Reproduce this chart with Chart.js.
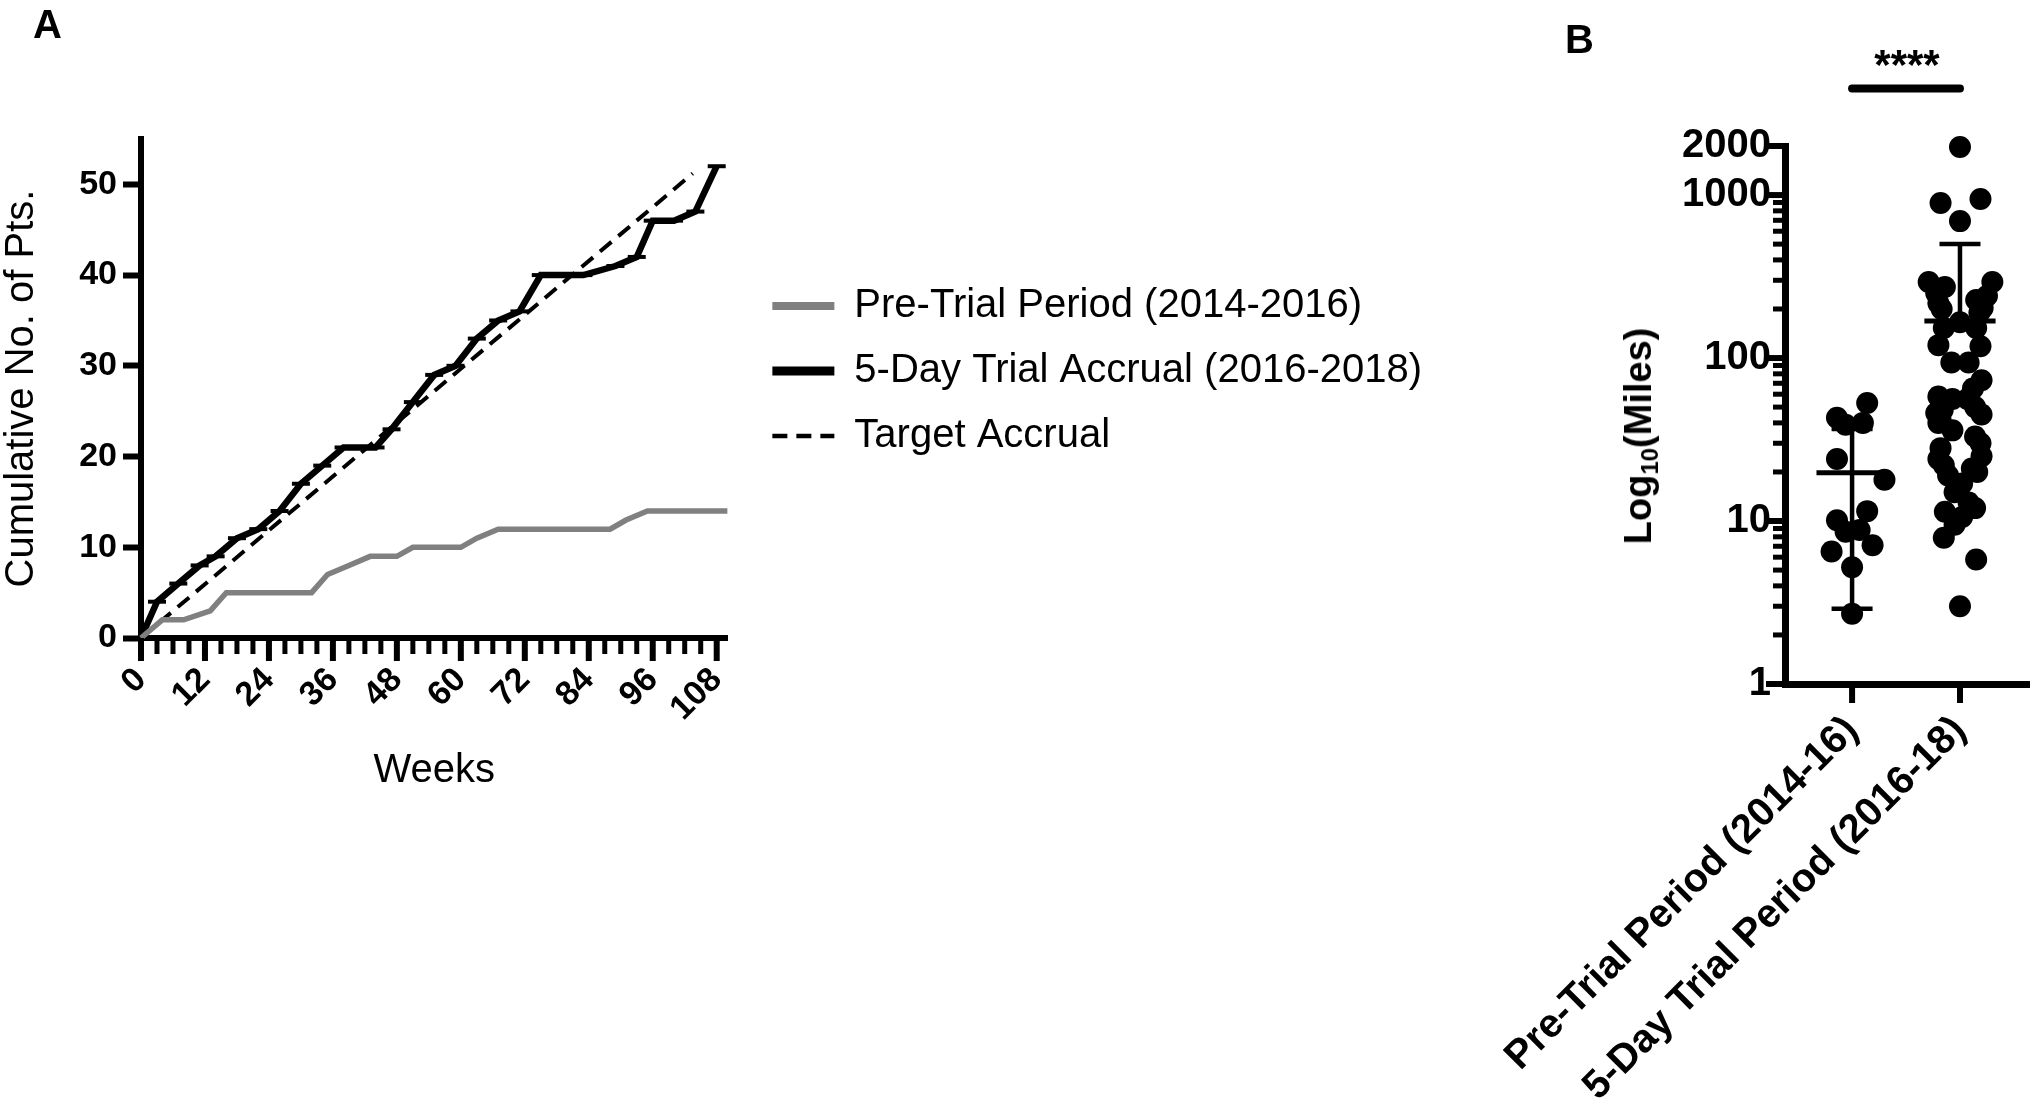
<!DOCTYPE html>
<html>
<head>
<meta charset="utf-8">
<script src="https://cdn.jsdelivr.net/npm/chart.js@4/dist/chart.umd.min.js"></script>
<style>
html,body{margin:0;padding:0;background:#fff;}
#wrap{position:relative;width:2040px;height:1110px;overflow:hidden;background:#fff;font-family:'Liberation Sans',Arial,sans-serif;color:#000;}
canvas{position:absolute;top:0;}
#cA{left:0;}
#cB{left:1500px;}
.lbl{position:absolute;font-weight:bold;font-size:40px;line-height:40px;}
#ytB{position:absolute;left:1638px;top:436px;transform:translate(-50%,-50%) rotate(-90deg);font-weight:bold;font-size:38px;line-height:44px;white-space:nowrap;}
#ytB sub{font-size:24px;vertical-align:-7px;line-height:0;}
#stars{position:absolute;left:1907px;top:44px;transform:translateX(-50%);font-size:42px;line-height:42px;font-weight:bold;white-space:nowrap;}
</style>
</head>
<body>
<div id="wrap">
  <canvas id="cA" width="1600" height="840"></canvas>
  <canvas id="cB" width="540" height="1110"></canvas>
  <div class="lbl" style="left:33px;top:4px">A</div>
  <div class="lbl" style="left:1565px;top:19px">B</div>
  <div id="stars">****</div>
  <div id="ytB">Log<sub>10</sub>(Miles)</div>
</div>
<script>
// ---------------- Panel A data ----------------
const trialWeeks    = [0, 3, 7, 11, 14, 18, 22, 26, 30, 34, 38, 44, 47, 51, 55, 59, 63, 67, 71, 75, 79, 83, 89, 93, 96, 100, 104, 108];
const trialPatients = [0, 4, 6,  8,  9, 11, 12, 14, 17, 19, 21, 21, 23, 26, 29, 30, 33, 35, 36, 40, 40, 40, 41, 42, 46,  46,  47,  52];
const preWeeks      = [0, 4, 8, 13, 16, 32, 35, 39, 43, 48, 51, 60, 63, 67, 88, 91, 95, 110];
const prePatients   = [0, 2, 2,  3,  5,  5,  7,  8,  9,  9, 10, 10, 11, 12, 12, 13, 14, 14];
const targetWeeks   = [0, 103.5];
const targetPatients= [0, 51.2];
const seriesNamesA  = ['Pre-Trial Period (2014-2016)', '5-Day Trial Accrual (2016-2018)', 'Target Accrual'];
const weekTickValues  = [0,3,6,9,12,15,18,21,24,27,30,33,36,39,42,45,48,51,54,57,60,63,66,69,72,75,78,81,84,87,90,93,96,99,102,105,108];
const weekLabelValues = [0,12,24,36,48,60,72,84,96,108];
const patientTickValues = [0,10,20,30,40,50];

// ---------------- Panel B data ----------------
const groupLabels = ['Pre-Trial Period (2014-16)', '5-Day Trial Period (2016-18)'];
const preTrialMiles  = [53, 43, 39, 40, 24, 17.9, 11.5, 10.1, 8.6, 8.8, 7.1, 6.5, 5.2, 2.7];
const preTrialSpread = [0.14, -0.14, -0.06, 0.10, -0.14, 0.30, 0.14, -0.14, -0.06, 0.07, 0.19, -0.19, 0, 0];
const fiveDayMiles  = [1970, 893, 945, 692,
  293, 273, 293, 250, 240, 217, 227, 203, 200, 190,
  166, 153, 153, 120, 118, 94, 94,
  73, 65, 58, 56, 56, 50, 48, 46, 45, 42, 40, 36, 33, 30, 28, 25, 24, 22, 21, 20, 19, 17, 15, 13, 12, 11.4, 10.6, 9.5, 7.9, 5.8, 3.0];
const fiveDaySpread = [0, -0.18, 0.19, 0,
  -0.29, -0.14, 0.30, -0.22, 0.25, -0.20, 0.15, 0.21, -0.17, 0.18,
  0, -0.15, 0.15, -0.20, 0.19, -0.08, 0.08,
  0.20, 0.12, -0.20, -0.07, 0.07, 0.14, -0.16, -0.22, 0.20, -0.18, -0.20, -0.07, 0.14, 0.19, -0.18, 0.20, -0.20, -0.15, 0.11, 0.16, -0.11, 0.02, -0.05, 0.08, 0.14, -0.14, 0.02, -0.05, -0.15, 0.15, 0];
const groupMeans = [19.8, 169];
const groupSDs   = [16.9, 331];
const milesTickValues  = [1,2,3,4,5,6,7,8,9,10,20,30,40,50,60,70,80,90,100,200,300,400,500,600,700,800,900,1000,2000];
const milesLabelValues = [1,10,100,1000,2000];
const sigBarLevel = 4500;

// ---------------- styling ----------------
const FONT = "'Liberation Sans', Arial, sans-serif";
Chart.defaults.font.family = FONT;
Chart.defaults.color = '#000';
const LEGEND_LINE_WIDTHS = [8, 9, 4.5];

// legend geometry: keep the legend's left edge at a fixed spot
const LEG_FONT = 40, LEG_PAD = 25, LEG_BOX = 62, CANVAS_A_W = 1600, LEGEND_LEFT = 747, PLOT_RIGHT = 727;
const mctx = document.createElement('canvas').getContext('2d');
mctx.font = LEG_FONT + 'px ' + FONT;
const maxTextW = Math.max(...seriesNamesA.map(t => mctx.measureText(t).width));
const legendW = Math.ceil(LEG_PAD + LEG_BOX + LEG_FONT / 2 + maxTextW + 10);
const padRightA = Math.max(0, CANVAS_A_W - LEGEND_LEFT - legendW);

function seg(ctx, x1, y1, x2, y2) { ctx.beginPath(); ctx.moveTo(x1, y1); ctx.lineTo(x2, y2); ctx.stroke(); }

const tickPlugA = {
  id: 'tickA',
  afterDraw(chart) {
    const {ctx, scales: {x}, chartArea: ca} = chart;
    ctx.save();
    ctx.strokeStyle = '#000';
    ctx.lineCap = 'butt';
    weekTickValues.forEach(v => {
      const px = x.getPixelForValue(v);
      const major = weekLabelValues.includes(v);
      ctx.lineWidth = major ? 6 : 5;
      seg(ctx, px, ca.bottom, px, ca.bottom + (major ? 23 : 16));
    });
    ctx.restore();
  }
};

const tickPlugB = {
  id: 'tickB',
  afterDraw(chart) {
    const {ctx, scales: {x, y}, chartArea: ca} = chart;
    ctx.save();
    ctx.strokeStyle = '#000';
    ctx.lineCap = 'butt';
    milesTickValues.forEach(v => {
      const py = y.getPixelForValue(v);
      const major = milesLabelValues.includes(v);
      ctx.lineWidth = major ? 6 : 5;
      seg(ctx, ca.left - (major ? 19 : 12), py, ca.left, py);
    });
    [1, 2].forEach(v => {
      const px = x.getPixelForValue(v);
      ctx.lineWidth = 6;
      seg(ctx, px, ca.bottom, px, ca.bottom + 19);
    });
    // significance bar
    ctx.lineWidth = 8;
    ctx.lineCap = 'round';
    const sy = y.getPixelForValue(sigBarLevel);
    seg(ctx, x.getPixelForValue(1), sy, x.getPixelForValue(2), sy);
    ctx.restore();
  }
};

const CAP_HALF = 0.19, MEAN_HALF = 0.33;
const errorBarPlugin = {
  id: 'errorBars',
  afterDatasetsDraw(chart) {
    const {ctx, scales: {x, y}} = chart;
    ctx.save();
    ctx.strokeStyle = '#000';
    ctx.lineCap = 'butt';
    groupMeans.forEach((m, i) => {
      const c = i + 1;
      const cx = x.getPixelForValue(c);
      const sd = groupSDs[i];
      const ym = y.getPixelForValue(m);
      const yTop = y.getPixelForValue(m + sd);
      const lo = m - sd;
      const yBot = lo > 0 ? y.getPixelForValue(lo) : ym;
      ctx.lineWidth = 4.5;
      seg(ctx, cx, yTop, cx, yBot);
      seg(ctx, x.getPixelForValue(c - CAP_HALF), yTop, x.getPixelForValue(c + CAP_HALF), yTop);
      if (lo > 0) seg(ctx, x.getPixelForValue(c - CAP_HALF), yBot, x.getPixelForValue(c + CAP_HALF), yBot);
      ctx.lineWidth = 5;
      seg(ctx, x.getPixelForValue(c - MEAN_HALF), ym, x.getPixelForValue(c + MEAN_HALF), ym);
    });
    ctx.restore();
  }
};

const toXY = (xs, ys) => xs.map((v, i) => ({x: v, y: ys[i]}));

new Chart(document.getElementById('cA'), {
  type: 'line',
  data: {
    datasets: [
      {label: seriesNamesA[0], data: toXY(preWeeks, prePatients), borderColor: '#808080', backgroundColor: '#808080',
       borderWidth: 5.5, pointRadius: 0, tension: 0, clip: false},
      {label: seriesNamesA[1], data: toXY(trialWeeks, trialPatients), borderColor: '#000', backgroundColor: '#000',
       borderWidth: 6.5, pointStyle: 'line', pointRadius: 9, pointBorderWidth: 4, pointBorderColor: '#000',
       pointBackgroundColor: '#000', tension: 0, clip: false},
      {label: seriesNamesA[2], data: toXY(targetWeeks, targetPatients), borderColor: '#000', backgroundColor: '#000',
       borderWidth: 4, borderDash: [15, 9], pointRadius: 0, tension: 0, clip: false}
    ]
  },
  options: {
    responsive: false, animation: false, devicePixelRatio: 1,
    layout: {padding: {top: 139, left: 0, right: padRightA, bottom: 45}},
    plugins: {
      tooltip: {enabled: false},
      legend: {
        position: 'right', align: 'start', maxWidth: legendW,
        title: {display: true, text: ' ', font: {size: 10}, padding: {top: 110, bottom: 0}},
        labels: {
          usePointStyle: true, pointStyleWidth: LEG_BOX, padding: LEG_PAD, color: '#000',
          font: {size: LEG_FONT, family: FONT},
          generateLabels(chart) {
            return chart.data.datasets.map((ds, i) => ({
              text: ds.label, strokeStyle: ds.borderColor, fillStyle: ds.borderColor,
              lineWidth: LEGEND_LINE_WIDTHS[i], lineDash: ds.borderDash || [], lineCap: 'butt',
              pointStyle: 'line', hidden: false, datasetIndex: i, fontColor: '#000'
            }));
          }
        }
      }
    },
    scales: {
      x: {
        type: 'linear', min: 0, max: 110,
        afterBuildTicks: s => { s.ticks = weekTickValues.map(v => ({value: v})); },
        afterFit: s => { s.height = 157; s.paddingLeft = 0; s.paddingRight = 0; },
        grid: {display: true, drawOnChartArea: false, drawTicks: true, tickLength: 20, tickColor: 'rgba(0,0,0,0)'},
        border: {display: true, color: '#000', width: 6},
        ticks: {autoSkip: false, minRotation: 45, maxRotation: 45, padding: 2, color: '#000',
                font: {size: 34, weight: 'bold', family: FONT},
                callback: v => weekLabelValues.includes(v) ? String(v) : ''},
        title: {display: true, text: 'Weeks', color: '#000', font: {size: 40, family: FONT}, padding: {top: 0, bottom: 0}}
      },
      y: {
        type: 'linear', min: 0, max: 55,
        afterBuildTicks: s => { s.ticks = patientTickValues.map(v => ({value: v})); },
        afterFit: s => { s.width = 141; },
        grid: {display: true, drawOnChartArea: false, drawTicks: true, tickLength: 18, tickWidth: 6, tickColor: '#000'},
        border: {display: true, color: '#000', width: 6},
        ticks: {padding: 6, color: '#000', font: {size: 34, weight: 'bold', family: FONT}},
        title: {display: true, text: 'Cumulative No. of Pts.', color: '#000', font: {size: 40, family: FONT, lineHeight: 1.1}, padding: 0}
      },
      gap: {
        type: 'linear', position: 'right', display: true,
        grid: {display: false}, ticks: {display: false}, border: {display: false},
        afterFit: s => { s.width = LEGEND_LEFT - PLOT_RIGHT; }
      }
    }
  },
  plugins: [tickPlugA]
});

new Chart(document.getElementById('cB'), {
  type: 'scatter',
  data: {
    datasets: [
      {label: groupLabels[0], data: toXY(preTrialSpread.map(d => 1 + d), preTrialMiles),
       pointRadius: 11, pointBackgroundColor: '#000', pointBorderWidth: 0, clip: false},
      {label: groupLabels[1], data: toXY(fiveDaySpread.map(d => 2 + d), fiveDayMiles),
       pointRadius: 11, pointBackgroundColor: '#000', pointBorderWidth: 0, clip: false}
    ]
  },
  options: {
    responsive: false, animation: false, devicePixelRatio: 1,
    layout: {padding: {top: 146, left: 0, right: 4, bottom: 0}},
    plugins: {legend: {display: false}, tooltip: {enabled: false}},
    scales: {
      x: {
        type: 'linear', min: 0.3783, max: 2.6397,
        afterBuildTicks: s => { s.ticks = [{value: 1}, {value: 2}]; },
        afterFit: s => { s.height = 426; s.paddingLeft = 0; s.paddingRight = 0; },
        grid: {display: true, drawOnChartArea: false, drawTicks: true, tickLength: 16, tickColor: 'rgba(0,0,0,0)'},
        border: {display: true, color: '#000', width: 7},
        ticks: {autoSkip: false, minRotation: 45, maxRotation: 45, padding: 7, color: '#000',
                font: {size: 40, weight: 'bold', family: FONT},
                callback: v => groupLabels[v - 1] || ''}
      },
      y: {
        type: 'logarithmic', min: 1, max: 2000,
        afterBuildTicks: s => { s.ticks = milesTickValues.map(v => ({value: v})); },
        afterFit: s => { s.width = 285; },
        grid: {display: true, drawOnChartArea: false, drawTicks: true, tickLength: 14, tickColor: 'rgba(0,0,0,0)'},
        border: {display: true, color: '#000', width: 7},
        ticks: {autoSkip: false, padding: 0, color: '#000', font: {size: 40, weight: 'bold', family: FONT},
                callback: v => milesLabelValues.includes(v) ? String(v) : ''}
      }
    }
  },
  plugins: [tickPlugB, errorBarPlugin]
});
</script>
</body>
</html>
